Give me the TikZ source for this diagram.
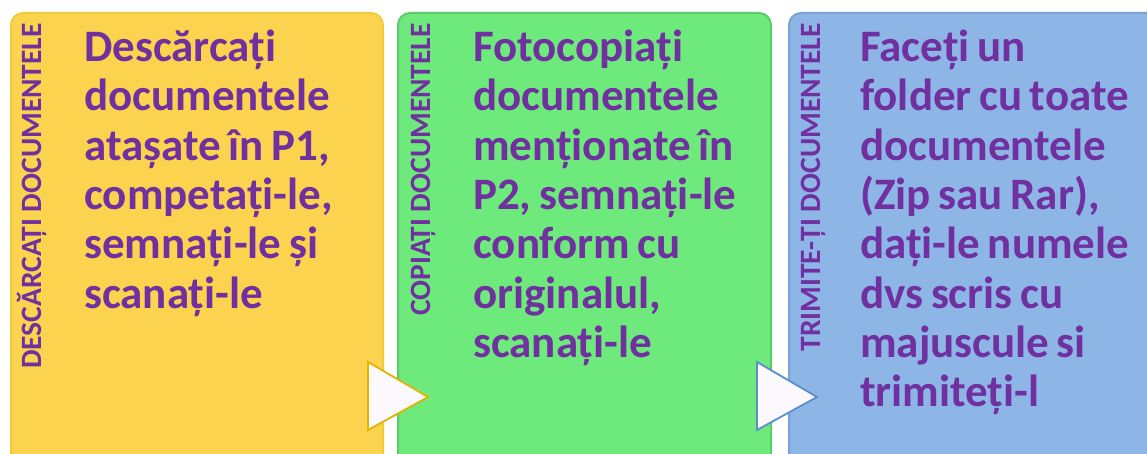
\documentclass[tikz,border=0pt]{standalone}
\usepackage{fontspec}
\setmainfont{Carlito}
\usetikzlibrary{positioning}
\definecolor{txtpurple}{HTML}{7030A0}
\definecolor{yfill}{HTML}{FCD34F}
\definecolor{yedge}{HTML}{EFCB3A}
\definecolor{gfill}{HTML}{6EE97C}
\definecolor{gedge}{HTML}{5CCB69}
\definecolor{bfill}{HTML}{8DB6E6}
\definecolor{bedge}{HTML}{7AA2D4}
\definecolor{trifill}{HTML}{FBF8FE}
\definecolor{triyel}{HTML}{E2B400}
\definecolor{triblu}{HTML}{5B8FCC}
\newcommand{\bodysp}{\spaceskip=7.6pt\relax}
\tikzset{
  panel/.style={rectangle, rounded corners=12pt, line width=2pt, inner sep=0pt, anchor=north west},
  sidelabel/.style={rotate=90, anchor=base east, inner sep=0pt, text=txtpurple,
    font=\fontsize{29.5}{33}\selectfont\bfseries},
  bodytext/.style={anchor=base west, inner sep=0pt, text=txtpurple, align=left,
    text width=300pt, font=\fontsize{45}{49.3}\selectfont\bfseries,
    execute at begin node=\bodysp},
  marker/.style={line width=1.8pt, fill=trifill, line join=miter}
}
\begin{document}
\begin{tikzpicture}[x=1pt,y=1pt]
\useasboundingbox (0,0) rectangle (1147,453);
\clip (0,0) rectangle (1147,453);
% panels
\node[panel, fill=yfill, draw=yedge, minimum width=372pt, minimum height=470pt] (p1) at (10,441) {};
\node[panel, fill=gfill, draw=gedge, minimum width=373pt, minimum height=470pt] (p2) at (397,441) {};
\node[panel, fill=bfill, draw=bedge, minimum width=370pt, minimum height=470pt] (p3) at (788,441) {};
% side labels
\node[sidelabel] (l1) at (41,430) {DESCĂRCAȚI DOCUMENTELE};
\node[sidelabel] (l2) at (430,430) {COPIAȚI DOCUMENTELE};
\node[sidelabel] (l3) at (820,430) {TRIMITE-ȚI DOCUMENTELE};
% body texts
\node[bodytext] (t1) at (84,391.3) {Descărcați\\documentele\\atașate în P1,\\competați-le,\\semnați-le și\\scanați-le};
\node[bodytext] (t2) at (473,391.3) {Fotocopiați\\documentele\\menționate în\\P2, semnați-le\\conform cu\\originalul,\\scanați-le};
\node[bodytext] (t3) at (860,391.3) {Faceți un\\folder cu toate\\documentele\\(Zip sau Rar),\\dați-le numele\\dvs scris cu\\majuscule si\\trimiteți-l};
% arrow markers
\coordinate (a1) at (368,91);
\coordinate (a1b) at (368,23);
\coordinate (a1t) at (428,56);
\draw[marker, draw=triyel] (a1) -- (a1t) -- (a1b) -- cycle;
\coordinate (a2) at (757,91);
\coordinate (a2b) at (757,23);
\coordinate (a2t) at (817,56);
\draw[marker, draw=triblu] (a2) -- (a2t) -- (a2b) -- cycle;
\end{tikzpicture}
\end{document}
